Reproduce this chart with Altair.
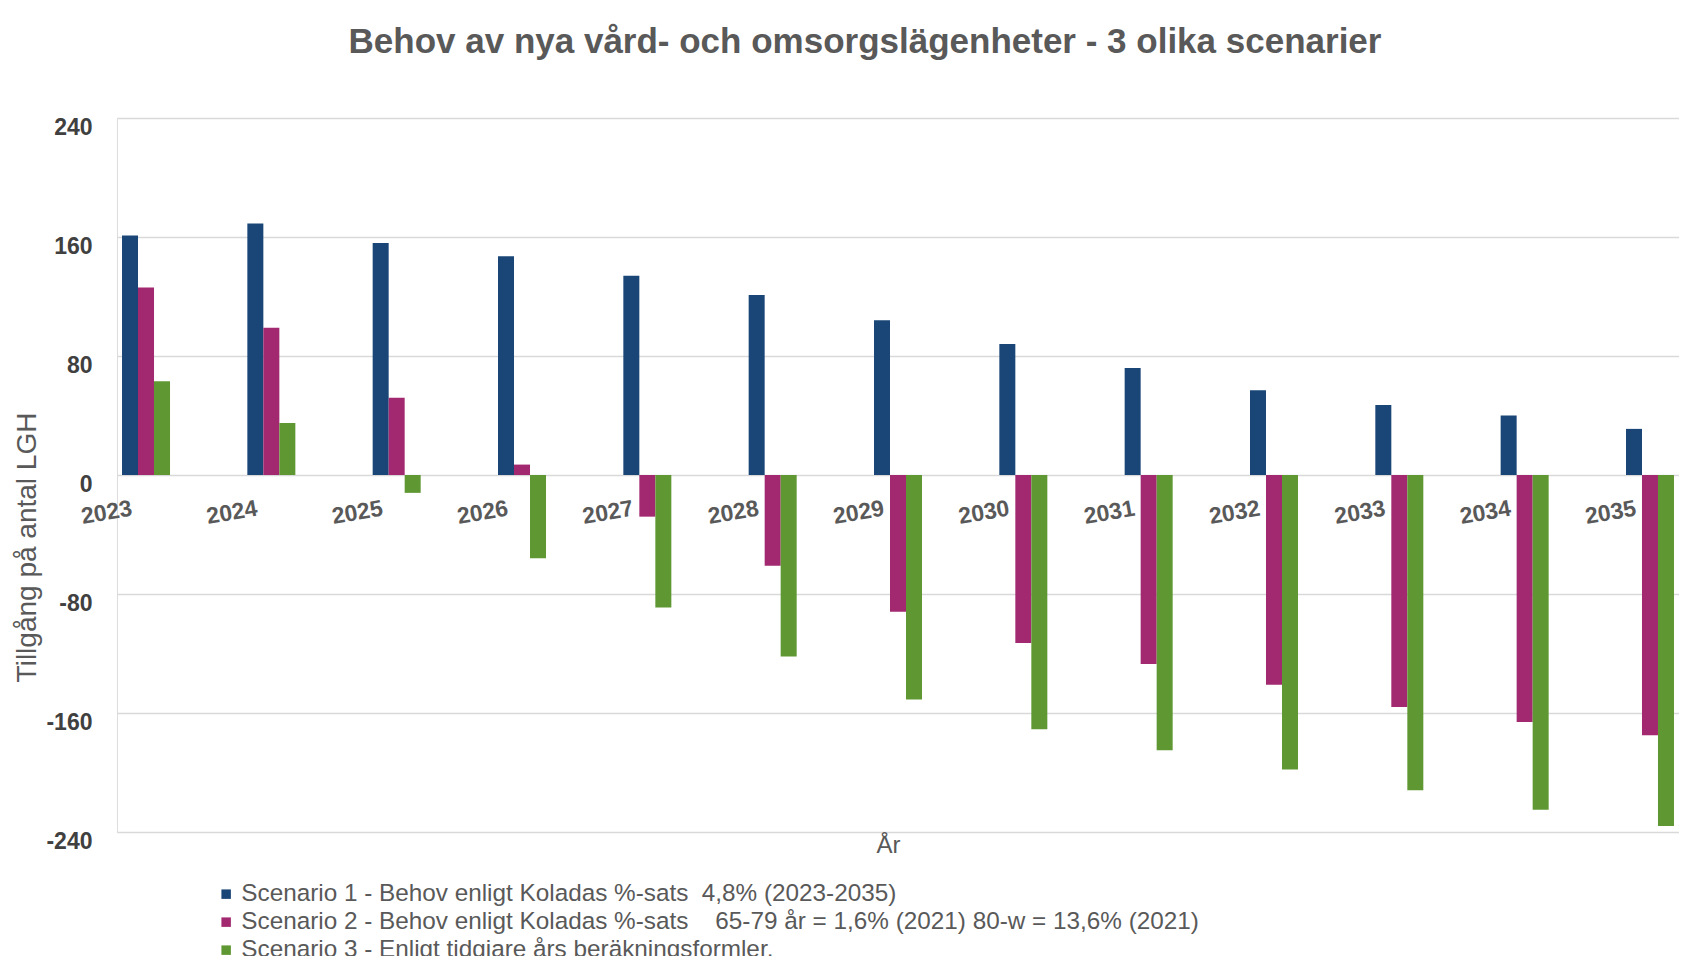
import altair as alt
import pandas as pd

years = ["2023", "2024", "2025", "2026", "2027", "2028", "2029",
         "2030", "2031", "2032", "2033", "2034", "2035"]
scenario1 = [161, 169, 156, 147, 134, 121, 104, 88, 72, 57, 47, 40, 31]
scenario2 = [126, 99, 52, 7, -28, -61, -92, -113, -127, -141, -156, -166, -175]
scenario3 = [63, 35, -12, -56, -89, -122, -151, -171, -185, -198, -212, -225, -236]

NB = "\u00a0"
series_names = [
    "Scenario 1 - Behov enligt Koladas %-sats" + NB * 2 + "4,8% (2023-2035)",
    "Scenario 2 - Behov enligt Koladas %-sats" + NB * 4 + "65-79 år = 1,6% (2021) 80-w = 13,6% (2021)",
    "Scenario 3 - Enligt tidgiare års beräkningsformler.",
]
colors = ["#1A4677", "#A2286F", "#5F9732"]

rows = []
for name, vals in zip(series_names, [scenario1, scenario2, scenario3]):
    for y, v in zip(years, vals):
        rows.append({"År": y, "Scenario": name, "Värde": v})
df = pd.DataFrame(rows)

GRAY = "#595959"

chart = alt.Chart(df).mark_bar().encode(
    x=alt.X("År:N", sort=years,
            scale=alt.Scale(paddingInner=0.617, paddingOuter=0.04),
            axis=alt.Axis(title="År", orient="bottom", offset=-357,
                          domain=False, ticks=False, grid=False,
                          labelAngle=350, labelAlign="right", labelBaseline="top",
                          labelPadding=22, labelOffset=-16,
                          labelFont="Liberation Sans", labelFontSize=23,
                          labelFontWeight="bold", labelColor=GRAY,
                          titleFont="Liberation Sans", titleFontSize=24,
                          titleFontWeight="normal", titleColor=GRAY,
                          titleX=771, titleY=358)),
    xOffset=alt.XOffset("Scenario:N", sort=series_names,
                        scale=alt.Scale(paddingInner=0, paddingOuter=0)),
    y=alt.Y("Värde:Q",
            scale=alt.Scale(domain=[-240, 240], nice=False),
            axis=alt.Axis(title="Tillgång på antal LGH",
                          values=[-240, -160, -80, 0, 80, 160, 240],
                          labelExpr="'' + datum.value",
                          domain=False, ticks=False,
                          gridColor="#D9D9D9", gridWidth=1.5,
                          labelPadding=25, labelOffset=9,
                          labelFont="Liberation Sans",
                          labelFontSize=23, labelFontWeight="bold",
                          labelColor="#404040",
                          titleFont="Liberation Sans", titleFontSize=28,
                          titleFontWeight="normal", titleColor=GRAY,
                          titlePadding=4, titleY=429)),
    color=alt.Color("Scenario:N", sort=series_names,
                    scale=alt.Scale(domain=series_names, range=colors),
                    legend=alt.Legend(title=None, orient="none",
                                      legendX=97, legendY=764,
                                      direction="vertical",
                                      symbolType="square", symbolSize=90,
                                      labelFont="Liberation Sans",
                                      labelFontSize=24.3, labelColor=GRAY,
                                      labelLimit=1400, rowPadding=3,
                                      labelOffset=3,
                                      symbolStrokeWidth=0)),
).properties(
    width=1562,
    height=714,
    title=alt.TitleParams("Behov av nya vård- och omsorgslägenheter - 3 olika scenarier",
                          font="Liberation Sans", fontSize=35, fontWeight="bold",
                          color=GRAY, anchor="middle", offset=56, dx=-33),
    padding={"left": 5, "top": 17, "right": 0, "bottom": 0},
).configure_view(stroke=None).configure(background="white")

chart.save("out.html", embed_options={"renderer": "svg", "actions": False})
